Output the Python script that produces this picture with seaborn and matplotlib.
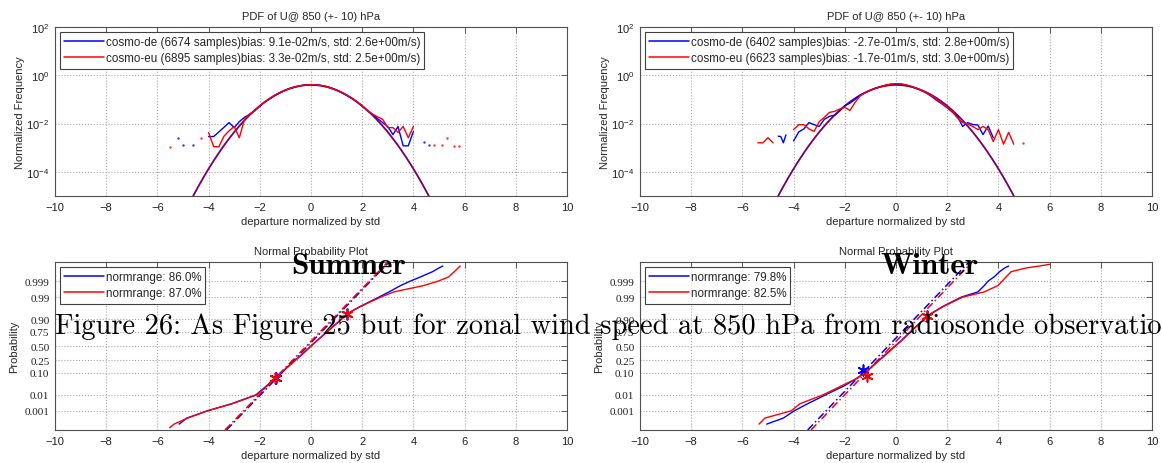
import math
from statistics import NormalDist
import numpy as np
import pandas as pd
import matplotlib
matplotlib.use("Agg")
import matplotlib.pyplot as plt
from matplotlib.lines import Line2D
import seaborn as sns

# ---------------- data ----------------
# PDF panels: bin centres and normalized frequencies
pdf_x_summer = [-4.0, -3.8, -3.6, -3.4, -3.2, -3.0, -2.8, -2.6, -2.4, -2.2, -2.0,
                -1.8, -1.6, -1.4, -1.2, -1.0, -0.8, -0.6, -0.4, -0.2, 0.0,
                0.2, 0.4, 0.6, 0.8, 1.0, 1.2, 1.4, 1.6, 1.8, 2.0,
                2.2, 2.4, 2.6, 2.8, 3.0, 3.2, 3.4, 3.6, 3.8, 4.0]
pdf_summer_de = [2.9e-3, 2.9e-3, 4.5e-3, 7.0e-3, 1.1e-2, 6.8e-3, 1.2e-2, 1.8e-2, 2.4e-2, 3.4e-2, 5.2e-2,
                 0.080, 0.108, 0.148, 0.19, 0.245, 0.29, 0.33, 0.37, 0.40, 0.41,
                 0.40, 0.38, 0.345, 0.30, 0.245, 0.19, 0.145, 0.11, 0.078, 0.052,
                 0.034, 0.024, 0.016, 0.011, 0.0075, 0.0035, 0.0075, 0.0012, 0.0012, 0.0047]
pdf_summer_eu = [4.2e-3, 1.1e-3, 1.1e-3, 3.0e-3, 5.0e-3, 7.6e-3, 2.6e-3, 1.5e-2, 2.5e-2, 3.3e-2, 5.5e-2,
                 0.080, 0.112, 0.152, 0.196, 0.24, 0.29, 0.335, 0.375, 0.40, 0.405,
                 0.40, 0.375, 0.34, 0.29, 0.24, 0.20, 0.15, 0.11, 0.08, 0.055,
                 0.035, 0.025, 0.019, 0.015, 0.0068, 0.0068, 0.0043, 0.0076, 0.0026, 0.0076]
dots_summer_de_x = [-5.2, -5.0, -4.6, 4.4, 4.6]
dots_summer_de_y = [2.6e-3, 1.3e-3, 1.3e-3, 1.8e-3, 1.3e-3]
dots_summer_eu_x = [-5.5, -4.3, 4.8, 5.1, 5.3, 5.6, 5.8]
dots_summer_eu_y = [1.1e-3, 2.6e-3, 1.3e-3, 1.3e-3, 2.6e-3, 1.2e-3, 1.2e-3]

pdf_x_winter = [-4.0, -3.8, -3.6, -3.4, -3.2, -3.0, -2.8, -2.6, -2.4, -2.2, -2.0,
                -1.8, -1.6, -1.4, -1.2, -1.0, -0.8, -0.6, -0.4, -0.2, 0.0,
                0.2, 0.4, 0.6, 0.8, 1.0, 1.2, 1.4, 1.6, 1.8, 2.0,
                2.2, 2.4, 2.6, 2.8, 3.0, 3.2, 3.4, 3.6, 3.8, 4.0,
                4.2, 4.4, 4.6]
pdf_winter_de = [1.9e-3, 4.5e-3, 6.0e-3, 1.1e-2, 9.0e-3, 7.6e-3, 1.5e-2, 2.0e-2, 2.2e-2, 3.3e-2, 5.5e-2,
                 0.070, 0.100, 0.150, 0.19, 0.24, 0.29, 0.34, 0.39, 0.43, 0.45,
                 0.43, 0.39, 0.34, 0.28, 0.23, 0.18, 0.13, 0.09, 0.065, 0.045,
                 0.030, 0.020, 0.0076, 0.011, 0.0091, 0.0087, 0.0035, 0.0079, 0.0026, np.nan,
                 np.nan, np.nan, np.nan]
pdf_winter_eu = [5.6e-3, 9.0e-3, 9.0e-3, 6.0e-3, 4.7e-3, 1.2e-2, 1.8e-2, 2.9e-2, 3.2e-2, 4.0e-2, 4.7e-2,
                 0.035, 0.075, 0.14, 0.19, 0.24, 0.29, 0.34, 0.39, 0.43, 0.45,
                 0.44, 0.40, 0.35, 0.29, 0.235, 0.185, 0.14, 0.10, 0.068, 0.046,
                 0.031, 0.017, 0.011, 0.0095, 0.0076, 0.0056, 0.0076, 0.0056, 0.0018, 0.0056,
                 0.0014, 0.0043, 0.0014]
frag_winter_de_x = [-4.6, -4.5, -4.4, -4.3]
frag_winter_de_y = [3.0e-3, 2.9e-3, 1.6e-3, 3.4e-3]
frag_winter_eu_x = [-5.4, -5.2, -5.0, -4.8]
frag_winter_eu_y = [1.6e-3, 1.6e-3, 2.6e-3, 1.6e-3]
dots_winter_eu_x = [4.96]
dots_winter_eu_y = [1.6e-3]

legend_summer_pdf = ["cosmo-de (6674 samples)bias: 9.1e-02m/s, std: 2.6e+00m/s)",
                     "cosmo-eu (6895 samples)bias: 3.3e-02m/s, std: 2.5e+00m/s)"]
legend_winter_pdf = ["cosmo-de (6402 samples)bias: -2.7e-01m/s, std: 2.8e+00m/s)",
                     "cosmo-eu (6623 samples)bias: -1.7e-01m/s, std: 3.0e+00m/s)"]

# Normal probability panels: cumulative probability levels and departures read at them
prob_levels = [5e-5, 1e-4, 3e-4, 1e-3, 3e-3, 0.01, 0.03, 0.06, 0.1, 0.2, 0.3, 0.4, 0.5,
               0.6, 0.7, 0.8, 0.9, 0.94, 0.97, 0.99, 0.995, 0.998, 0.999, 0.9995,
               0.9998, 0.9999, 0.99993, 0.99995]
q_summer_de = [np.nan, -5.15, -4.85, -4.05, -3.1, -2.15, -1.72, -1.43, -1.18, -0.77, -0.47, -0.22, 0.0,
               0.23, 0.48, 0.78, 1.19, 1.44, 1.92, 2.65, 3.05, 3.5, 3.88, 4.28, 4.75, 5.0, 5.15, np.nan]
q_summer_eu = [-5.52, -5.35, -4.82, -4.06, -3.07, -2.12, -1.70, -1.42, -1.17, -0.76, -0.46, -0.22, 0.0,
               0.24, 0.49, 0.79, 1.2, 1.45, 1.93, 2.72, 3.24, 4.4, 4.97, 5.38, 5.6, 5.75, 5.83, np.nan]
q_winter_de = [np.nan, -5.05, -4.4, -3.98, -3.45, -2.75, -2.0, -1.55, -1.22, -0.82, -0.52, -0.27, -0.04,
               0.2, 0.43, 0.7, 1.1, 1.38, 1.82, 2.55, 3.2, 3.45, 3.6, 3.83, 4.05, 4.25, 4.4, np.nan]
q_winter_eu = [np.nan, -5.35, -5.12, -4.1, -3.75, -2.85, -2.1, -1.55, -1.2, -0.8, -0.5, -0.25, -0.02,
               0.22, 0.45, 0.72, 1.12, 1.4, 1.85, 2.6, 3.45, 3.98, 4.15, 4.3, 4.5, 5.1, 5.6, 6.0]

# reference (fit) lines: departures at the bottom / top probability of the axis
ref_prob = [3.2e-5, 0.999968]
ref_summer_de = [-3.30, 3.05]
ref_summer_eu = [-3.36, 3.00]
ref_winter_de = [-3.45, 2.85]
ref_winter_eu = [-3.32, 2.97]
# quartile-type markers
star_summer_de = ([-1.38, 1.42], [0.062, 0.935])
star_summer_eu = ([-1.41, 1.41], [0.062, 0.935])
star_winter_de = ([-1.30, 1.23], [0.13, 0.925])
star_winter_eu = ([-1.15, 1.23], [0.08, 0.925])

legend_summer_np = ["normrange: 86.0%", "normrange: 87.0%"]
legend_winter_np = ["normrange: 79.8%", "normrange: 82.5%"]

prob_ticks = [0.001, 0.01, 0.10, 0.25, 0.50, 0.75, 0.90, 0.99, 0.999]
prob_ticklabels = ["0.001", "0.01", "0.10", "0.25", "0.50", "0.75", "0.90", "0.99", "0.999"]
prob_lim = (3.17e-5, 0.9999683)

caption = "Figure 26: As Figure 25 but for zonal wind speed at 850 hPa from radiosonde observations."

# ---------------- style ----------------
sns.set_theme(style="white")
plt.rcParams['font.family'] = ['Liberation Sans', 'DejaVu Sans']
plt.rcParams['axes.unicode_minus'] = True

BLUE = '#0000ff'
RED = '#ff0000'

_nd = NormalDist()
_ppf = np.vectorize(lambda p: _nd.inv_cdf(p) if 0 < p < 1 else np.nan, otypes=[float])
_erf = np.vectorize(math.erf, otypes=[float])


def fwd(p):
    p = np.clip(np.asarray(p, dtype=float), 1e-12, 1 - 1e-12)
    return _ppf(p)


def inv(z):
    z = np.asarray(z, dtype=float)
    return 0.5 * (1.0 + _erf(z / math.sqrt(2.0)))


fig = plt.figure(figsize=(11.62, 4.64), dpi=100)
W = 512 / 1162
ax_tl = fig.add_axes([55 / 1162, 1 - 197 / 464, W, 169 / 464])
ax_tr = fig.add_axes([640 / 1162, 1 - 197 / 464, W, 169 / 464])
ax_bl = fig.add_axes([55 / 1162, 1 - 431 / 464, W, 168 / 464])
ax_br = fig.add_axes([640 / 1162, 1 - 431 / 464, W, 168 / 464])


def style(ax):
    ax.tick_params(direction='in', top=True, right=True, length=4, width=0.6,
                   labelsize=8, color='#404040', labelcolor='#202020', pad=4)
    for s in ax.spines.values():
        s.set_linewidth(0.8)
        s.set_color('#505050')
    ax.grid(True, which='major', linestyle=':', color='#a8a8a8', linewidth=0.8)
    ax.set_axisbelow(True)
    ax.set_xlim(-10, 10)
    ax.set_xticks(list(range(-10, 11, 2)))
    ax.set_xlabel('departure normalized by std', fontsize=8, labelpad=3)


def legend(ax, labels):
    handles = [Line2D([], [], color=BLUE, lw=1.1), Line2D([], [], color=RED, lw=1.1)]
    lg = ax.legend(handles, labels, loc='upper left', fontsize=8.4, fancybox=False,
                   framealpha=1, edgecolor='#404040', handlelength=3.4,
                   handletextpad=0.15, borderaxespad=0.45, labelspacing=0.35,
                   borderpad=0.35)
    lg.get_frame().set_linewidth(0.8)


# normal reference density
xs = np.linspace(-6, 6, 241)
normal_pdf = np.exp(-xs ** 2 / 2) / math.sqrt(2 * math.pi)


def pdf_panel(ax, x, de, eu, frags, dots, labels):
    ax.set_yscale('log')
    sns.lineplot(x=xs, y=normal_pdf, color='#c00040', lw=1.2, ax=ax, sort=False)
    sns.lineplot(x=xs, y=normal_pdf, color='#2a00a0', lw=1.2, alpha=0.5, ax=ax, sort=False)
    df_de = pd.DataFrame({'x': x, 'y': de}).dropna()
    df_eu = pd.DataFrame({'x': x, 'y': eu}).dropna()
    sns.lineplot(data=df_de, x='x', y='y', color=BLUE, lw=1.0, ax=ax, sort=False, estimator=None)
    for fx, fy, c in frags:
        if c == BLUE:
            sns.lineplot(x=fx, y=fy, color=c, lw=1.0, ax=ax, sort=False, estimator=None)
    sns.lineplot(data=df_eu, x='x', y='y', color=RED, lw=1.0, ax=ax, sort=False, estimator=None)
    for fx, fy, c in frags:
        if c == RED:
            sns.lineplot(x=fx, y=fy, color=c, lw=1.0, ax=ax, sort=False, estimator=None)
    for dx, dy, c in dots:
        sns.scatterplot(x=dx, y=dy, color=c, s=3, marker='o', linewidth=0, alpha=0.8, ax=ax)
    ax.set_ylim(1e-5, 1e2)
    ax.set_yticks([1e-4, 1e-2, 1e0, 1e2])
    ax.yaxis.set_minor_locator(matplotlib.ticker.NullLocator())
    style(ax)
    ax.set_ylabel('Normalized Frequency', fontsize=8, labelpad=1)
    ax.set_title('PDF of U@ 850 (+- 10) hPa', fontsize=8, pad=6)
    legend(ax, labels)


def np_panel(ax, qde, qeu, rde, reu, sde, seu, labels):
    ax.set_yscale('function', functions=(fwd, inv))
    d1 = pd.DataFrame({'x': qde, 'p': prob_levels}).dropna()
    d2 = pd.DataFrame({'x': qeu, 'p': prob_levels}).dropna()
    sns.lineplot(x=rde, y=ref_prob, color=BLUE, lw=1.1, ax=ax, sort=False,
                 estimator=None).lines[-1].set_linestyle((0, (5, 2, 1, 2)))
    sns.lineplot(x=reu, y=ref_prob, color=RED, lw=1.1, ax=ax, sort=False,
                 estimator=None).lines[-1].set_linestyle((0, (5, 2, 1, 2)))
    sns.lineplot(data=d1, x='x', y='p', color=BLUE, lw=1.0, ax=ax, sort=False, estimator=None)
    sns.lineplot(data=d2, x='x', y='p', color=RED, lw=1.0, ax=ax, sort=False, estimator=None)
    sns.scatterplot(x=sde[0], y=sde[1], color=BLUE, marker=(6, 2, 0), s=60, linewidth=1.2, ax=ax, zorder=5)
    sns.scatterplot(x=seu[0], y=seu[1], color=RED, marker=(6, 2, 0), s=60, linewidth=1.2, ax=ax, zorder=5)
    ax.set_ylim(*prob_lim)
    ax.set_yticks(prob_ticks)
    ax.set_yticklabels(prob_ticklabels)
    for t in ax.get_yticklabels():
        t.set_fontfamily('Liberation Serif')
        t.set_fontsize(8.5)
    style(ax)
    ax.set_ylabel('Probability', fontsize=8, labelpad=4)
    ax.set_title('Normal Probability Plot', fontsize=8, pad=6)
    legend(ax, labels)


pdf_panel(ax_tl, pdf_x_summer, pdf_summer_de, pdf_summer_eu, [],
          [(dots_summer_de_x, dots_summer_de_y, BLUE), (dots_summer_eu_x, dots_summer_eu_y, RED)],
          legend_summer_pdf)
pdf_panel(ax_tr, pdf_x_winter, pdf_winter_de, pdf_winter_eu,
          [(frag_winter_de_x, frag_winter_de_y, BLUE), (frag_winter_eu_x, frag_winter_eu_y, RED)],
          [(dots_winter_eu_x, dots_winter_eu_y, RED)],
          legend_winter_pdf)
np_panel(ax_bl, q_summer_de, q_summer_eu, ref_summer_de, ref_summer_eu,
         star_summer_de, star_summer_eu, legend_summer_np)
np_panel(ax_br, q_winter_de, q_winter_eu, ref_winter_de, ref_winter_eu,
         star_winter_de, star_winter_eu, legend_winter_np)

# overlaid page text
fig.text(349 / 1162, 1 - 274 / 464, 'Summer', fontfamily='cmb10', fontsize=22.5,
         ha='center', va='baseline', color='black')
fig.text(930 / 1162, 1 - 274 / 464, 'Winter', fontfamily='cmb10', fontsize=22.5,
         ha='center', va='baseline', color='black')
fig.text(55 / 1162, 1 - 334 / 464, caption, fontfamily='cmr10', fontsize=20.5,
         ha='left', va='baseline', color='black')

fig.savefig('out.png', dpi=100)
